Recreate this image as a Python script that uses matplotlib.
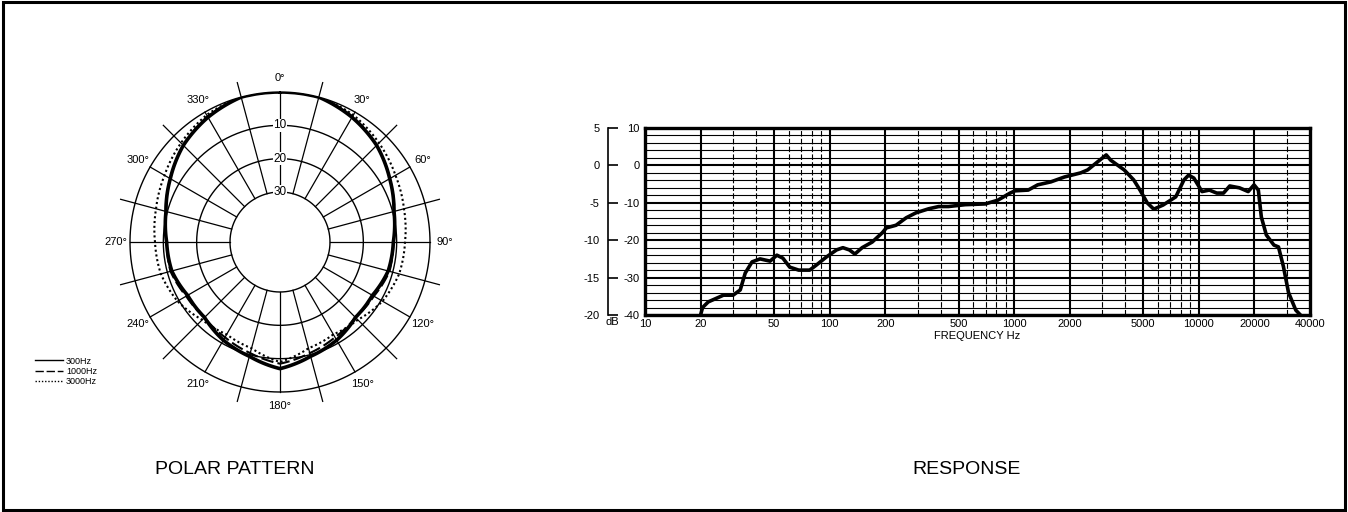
import numpy as np
import matplotlib
matplotlib.use("Agg")
import matplotlib.pyplot as plt
from matplotlib.lines import Line2D
from matplotlib.patches import Rectangle

plt.rcParams['font.family'] = ['Liberation Sans', 'DejaVu Sans']
plt.rcParams['axes.unicode_minus'] = False

# polar pattern, read every 15 degrees on the right half (0..180), dB
polar_angles = [0, 15, 30, 45, 60, 75, 90, 105, 120, 135, 150, 165, 180]
polar_300 = [0, 0, -1.8, -4, -7, -9.6, -11, -11.4, -13, -13, -11, -9.5, -7]
polar_1000 = [0, 0, -1.5, -4, -7, -9.5, -11, -11, -12.5, -13, -12, -10.5, -8.5]
polar_3000 = [0, 0, -1, -3, -5, -6.5, -7.5, -8, -9.5, -12, -13, -12, -9]
polar_labels = ['300Hz', '1000Hz', '3000Hz']

# frequency response (Hz, dB on the inner scale)
freq = [20, 20.5, 22, 26.6, 30, 32.8, 34.9, 38, 42, 47.6, 51.8, 55.8, 60.8, 68,
        78, 85, 96, 109, 118, 128, 137, 150, 170, 193, 203, 229, 260, 293, 344,
        390, 440, 543, 697, 815, 950, 1010, 1190, 1340, 1580, 1870, 2290, 2500,
        2820, 3150, 3330, 3940, 4440, 4800, 5250, 5700, 6400, 7500, 8300, 8800,
        9400, 10400, 11400, 12500, 13600, 14700, 16600, 18500, 19900, 21000,
        21800, 23200, 25500, 27000, 28700, 30600, 33500, 35500]
resp_db = [-40, -38, -36.5, -34.7, -34.7, -33.3, -28.8, -25.8, -25, -25.6, -24,
           -24.8, -27.2, -28, -28, -26.6, -24.5, -22.6, -22, -22.6, -23.7, -22,
           -20.5, -18, -16.7, -16, -14, -12.7, -11.6, -11, -11, -10.5, -10.3,
           -9.3, -7.4, -6.8, -6.6, -5.2, -4.4, -3.1, -2, -1.2, 0.9, 2.8, 1.4,
           -1.2, -3.9, -6.6, -10, -11.7, -10.6, -8.4, -3.9, -2.6, -3.4, -7, -6.6,
           -7.4, -7.4, -5.5, -6, -7, -5.2, -6.6, -13.8, -18.6, -21.3, -21.8, -27,
           -34, -38.7, -40]
x_ticks = [10, 20, 50, 100, 200, 500, 1000, 2000, 5000, 10000, 20000, 40000]
inner_ticks = [10, 0, -10, -20, -30, -40]
outer_ticks = [5, 0, -5, -10, -15, -20]

W, H = 1348, 512
fig = plt.figure(figsize=(W / 100, H / 100), dpi=100)
fig.patches.append(Rectangle((0.002, 0.003), 0.996, 0.993, transform=fig.transFigure,
                             fill=False, lw=2.2, ec='black'))

# ---------------- polar ----------------
cx, cy, rad = 280, 242, 150
pax = fig.add_axes([(cx - rad) / W, (H - cy - rad) / H, 2 * rad / W, 2 * rad / H],
                   projection='polar')
pax.set_theta_zero_location('N')
pax.set_theta_direction(-1)
pax.set_ylim(-45, 0)
pax.grid(False)
pax.set_xticks([])
pax.set_yticks([])
pax.spines['polar'].set_visible(False)
pax.patch.set_alpha(0)

t = np.linspace(0, 2 * np.pi, 400)
for r in [0, -10, -20, -30]:
    pax.plot(t, np.full_like(t, r), color='black', lw=1.0, clip_on=False)
for a in range(0, 360, 15):
    r_end = 4.5 if a % 30 else 0
    pax.plot([np.radians(a)] * 2, [-30, r_end], color='black', lw=0.9, clip_on=False)
for a in range(0, 360, 30):
    pax.text(np.radians(a), 4.3, f'{a}°', fontsize=8, ha='center', va='center')
for r in [-10, -20, -30]:
    pax.text(0, r, str(-r), fontsize=8.5, ha='center', va='center',
             bbox=dict(fc='white', ec='none', pad=0.6))


def full_circle(vals):
    ang = polar_angles + [360 - a for a in polar_angles[-2::-1]]
    v = vals + vals[-2::-1]
    return np.radians(ang), np.array(v)


styles = [dict(ls='-', lw=2.6), dict(ls=(0, (6, 2)), lw=1.5), dict(ls=(0, (1, 1.3)), lw=1.5)]
handles = []
for vals, st, lab in zip([polar_300, polar_1000, polar_3000], styles, polar_labels):
    th, rv = full_circle(vals)
    ln, = pax.plot(th, rv, color='black', label=lab, solid_joinstyle='round', **st)
    # follow the polar scale between the read points
    ln.get_path()._interpolation_steps = 30
    handles.append(Line2D([], [], color='black', ls=st['ls'], lw=1.0))

fig.legend(handles, polar_labels, loc='upper left', bbox_to_anchor=(30 / W, 1 - 352 / H),
           frameon=False, fontsize=6.5, handlelength=3.2, labelspacing=0.15,
           handletextpad=0.3, borderpad=0)

fig.text(235 / W, 1 - 470 / H, 'POLAR PATTERN', fontsize=14, ha='center', va='center')

# ---------------- response ----------------
x0, x1, y0, y1 = 645, 1310, 128, 315
ax = fig.add_axes([x0 / W, 1 - y1 / H, (x1 - x0) / W, (y1 - y0) / H])
ax.set_xscale('log')
ax.set_xlim(10, 40000)
ax.set_ylim(-40, 10)

for dec in [10, 100, 1000, 10000]:
    for m in range(1, 10):
        f = dec * m
        if f >= 40000 or f == 10:
            continue
        if m in (1, 2, 5):
            ax.axvline(f, color='black', lw=1.5, zorder=1)
        else:
            ax.axvline(f, color='black', lw=0.8, ls=(0, (5, 2)), zorder=1)
for v in range(-40, 11, 2):
    ax.axhline(v, color='black', lw=1.5 if v % 10 == 0 else 0.8, zorder=1)

ax.plot(freq, resp_db, color='black', lw=2.6, zorder=3, solid_joinstyle='round')

ax.set_xticks(x_ticks)
ax.set_xticklabels([str(x) for x in x_ticks])
ax.minorticks_off()
ax.set_yticks(inner_ticks)
ax.set_yticklabels([str(v) for v in inner_ticks])
ax.tick_params(axis='both', length=0, labelsize=8)
ax.tick_params(axis='x', pad=3)
ax.tick_params(axis='y', pad=4)
for s in ax.spines.values():
    s.set_linewidth(2.4)
ax.set_xlabel('FREQUENCY Hz', fontsize=8, labelpad=1)

oax = fig.add_axes([608 / W, 1 - y1 / H, 0.001, (y1 - y0) / H])
oax.set_ylim(-20, 5)
oax.set_yticks(outer_ticks)
oax.set_yticklabels([str(v) for v in outer_ticks])
oax.set_xticks([])
oax.patch.set_alpha(0)
for k in ['top', 'right', 'bottom']:
    oax.spines[k].set_visible(False)
oax.spines['left'].set_linewidth(1.2)
oax.tick_params(axis='y', direction='in', length=7, width=1.2, labelsize=8, pad=6)

fig.text(612 / W, 1 - 322 / H, 'dB', fontsize=8, ha='center', va='center')
fig.text(967 / W, 1 - 470 / H, 'RESPONSE', fontsize=14, ha='center', va='center')

fig.savefig('out.png', dpi=100)
